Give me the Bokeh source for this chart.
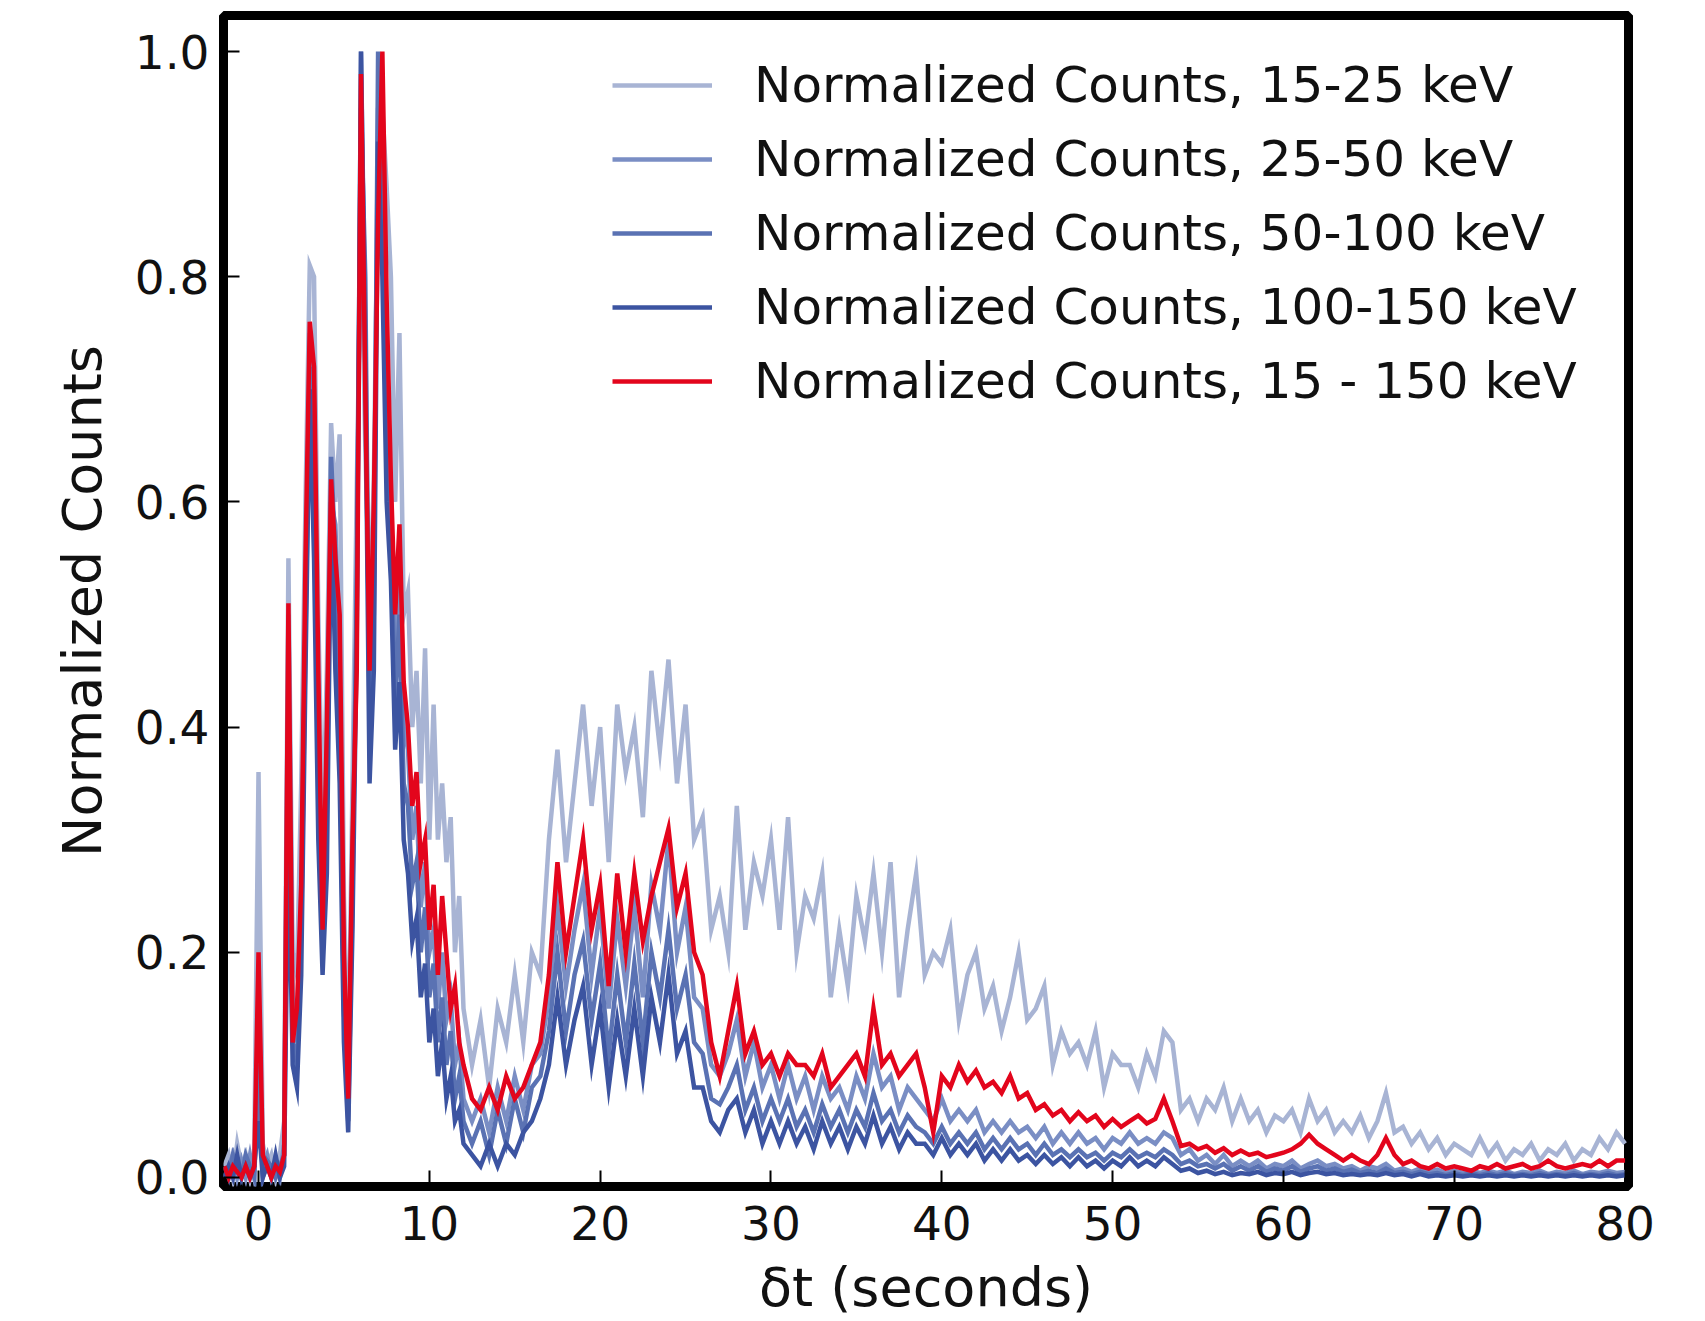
from bokeh.plotting import figure
from bokeh.models import Range1d, FixedTicker, PrintfTickFormatter, Legend
from bokeh.embed import file_html
from bokeh.resources import INLINE

# ---- time grids (seconds) ----
time_early = [-2.0 + 0.25 * i for i in range(57)]   # -2.0 .. 12.0
time_late = [12.5 + 0.5 * i for i in range(136)]    # 12.5 .. 80.0

# ---- series values ----
c15_25_early = [
    0.01, 0.02, 0.0, 0.03,
    0.01, 0.02, 0.0, 0.02,
    0.36, 0.03, 0.01, 0.02,
    0.0, 0.02, 0.05, 0.55,
    0.2, 0.18, 0.35, 0.6,
    0.81, 0.8, 0.5, 0.3,
    0.45, 0.67, 0.6, 0.66,
    0.25, 0.08, 0.35, 0.61,
    0.85, 0.65, 0.5, 0.62,
    0.9, 0.95, 0.88, 0.8,
    0.6, 0.75, 0.5, 0.52,
    0.4, 0.45, 0.35, 0.47,
    0.3, 0.42, 0.3, 0.35,
    0.28, 0.32, 0.2, 0.25,
    0.15,
]
c15_25_late = [
    0.1,
    0.14, 0.08, 0.15, 0.12, 0.18, 0.12, 0.2, 0.18, 0.3, 0.38,
    0.28, 0.35, 0.42, 0.33, 0.4, 0.28, 0.42, 0.36, 0.4, 0.32,
    0.45, 0.38, 0.46, 0.35, 0.42, 0.3, 0.32, 0.22, 0.25, 0.2,
    0.33, 0.22, 0.28, 0.25, 0.3, 0.22, 0.32, 0.2, 0.25, 0.23,
    0.27, 0.16, 0.22, 0.17, 0.25, 0.21, 0.27, 0.2, 0.28, 0.16,
    0.22, 0.27, 0.18, 0.2, 0.19, 0.22, 0.14, 0.18, 0.2, 0.15,
    0.17, 0.13, 0.16, 0.2, 0.14, 0.15, 0.17, 0.1, 0.13, 0.11,
    0.12, 0.1, 0.13, 0.08, 0.11, 0.1, 0.1, 0.08, 0.11, 0.09,
    0.13, 0.12, 0.06, 0.07, 0.05, 0.07, 0.06, 0.08, 0.05, 0.07,
    0.05, 0.06, 0.04, 0.055, 0.05, 0.06, 0.04, 0.07, 0.05, 0.06,
    0.04, 0.05, 0.04, 0.055, 0.035, 0.05, 0.075, 0.04, 0.045, 0.03,
    0.04, 0.025, 0.035, 0.02, 0.03, 0.025, 0.02, 0.035, 0.02, 0.03,
    0.015, 0.025, 0.02, 0.03, 0.015, 0.025, 0.02, 0.03, 0.015, 0.025,
    0.02, 0.035, 0.025, 0.04, 0.03,
]

c25_50_early = [
    0.0, 0.01, 0.02, 0.0,
    0.015, 0.0, 0.02, 0.0,
    0.15, 0.01, 0.02, 0.0,
    0.01, 0.0, 0.03, 0.5,
    0.15, 0.12, 0.25, 0.5,
    0.75, 0.7, 0.4, 0.25,
    0.38, 0.6, 0.58, 0.45,
    0.18, 0.06, 0.28, 0.5,
    1.0, 0.75, 0.42, 0.55,
    0.95, 0.9, 0.72, 0.6,
    0.45, 0.55, 0.4, 0.38,
    0.3, 0.33, 0.24, 0.28,
    0.2, 0.22, 0.15, 0.2,
    0.14, 0.16, 0.1, 0.12,
    0.07,
]
c25_50_late = [
    0.05,
    0.07, 0.04, 0.08, 0.05, 0.09, 0.06, 0.1, 0.11, 0.16, 0.24,
    0.17, 0.22, 0.26, 0.18, 0.24, 0.15, 0.23, 0.17, 0.24, 0.16,
    0.26, 0.22, 0.3, 0.2, 0.24, 0.16, 0.15, 0.1, 0.09, 0.11,
    0.14, 0.09, 0.12, 0.08, 0.1, 0.07, 0.1, 0.07, 0.09, 0.06,
    0.09, 0.07, 0.08, 0.06, 0.09, 0.07, 0.11, 0.08, 0.09, 0.06,
    0.08, 0.07, 0.06, 0.05, 0.07, 0.05, 0.06, 0.05, 0.06, 0.04,
    0.05, 0.04, 0.05, 0.04, 0.045, 0.035, 0.045, 0.03, 0.04, 0.03,
    0.04, 0.03, 0.035, 0.025, 0.035, 0.03, 0.04, 0.03, 0.035, 0.03,
    0.04, 0.035, 0.02, 0.025, 0.015, 0.02, 0.012, 0.02, 0.01, 0.015,
    0.01, 0.015, 0.008, 0.012, 0.01, 0.015, 0.008, 0.012, 0.015, 0.01,
    0.012, 0.008, 0.01, 0.006, 0.01, 0.008, 0.012, 0.006, 0.008, 0.005,
    0.008, 0.005, 0.007, 0.004, 0.006, 0.004, 0.006, 0.004, 0.006, 0.004,
    0.006, 0.003, 0.005, 0.004, 0.006, 0.003, 0.005, 0.004, 0.006, 0.003,
    0.005, 0.004, 0.006, 0.004, 0.005,
]

c50_100_early = [
    0.01, 0.0, 0.02, 0.01,
    0.0, 0.02, 0.01, 0.0,
    0.1, 0.0, 0.015, 0.01,
    0.0, 0.01, 0.02, 0.45,
    0.12, 0.1, 0.22, 0.48,
    0.72, 0.65, 0.35, 0.22,
    0.33, 0.64, 0.55, 0.4,
    0.15, 0.05, 0.25, 0.52,
    0.95, 0.8, 0.4, 0.5,
    1.0, 0.88, 0.68, 0.57,
    0.42, 0.5, 0.35, 0.33,
    0.26, 0.28, 0.2, 0.24,
    0.16, 0.19, 0.12, 0.16,
    0.1, 0.13, 0.07, 0.09,
    0.05,
]
c50_100_late = [
    0.03,
    0.05, 0.02, 0.06, 0.03, 0.07, 0.04, 0.08, 0.09, 0.13, 0.2,
    0.13, 0.18, 0.21, 0.14, 0.19, 0.11, 0.18, 0.12, 0.19, 0.12,
    0.2, 0.16, 0.22, 0.15, 0.18, 0.12, 0.11, 0.07, 0.065, 0.08,
    0.1, 0.06, 0.08, 0.05, 0.07, 0.05, 0.07, 0.045, 0.06, 0.04,
    0.065, 0.045, 0.06, 0.04, 0.06, 0.045, 0.075, 0.05, 0.06, 0.04,
    0.055, 0.045, 0.04, 0.03, 0.045, 0.03, 0.04, 0.03, 0.04, 0.025,
    0.035, 0.025, 0.035, 0.025, 0.03, 0.02, 0.03, 0.02, 0.025, 0.018,
    0.025, 0.018, 0.022, 0.015, 0.022, 0.018, 0.025, 0.018, 0.022, 0.018,
    0.025, 0.02, 0.012, 0.015, 0.01, 0.012, 0.008, 0.012, 0.006, 0.01,
    0.006, 0.01, 0.005, 0.008, 0.006, 0.01, 0.005, 0.008, 0.01, 0.006,
    0.008, 0.005, 0.007, 0.004, 0.006, 0.004, 0.008, 0.004, 0.005, 0.003,
    0.005, 0.003, 0.004, 0.002, 0.004, 0.002, 0.004, 0.002, 0.004, 0.002,
    0.004, 0.002, 0.003, 0.002, 0.004, 0.002, 0.003, 0.002, 0.004, 0.002,
    0.003, 0.002, 0.004, 0.002, 0.003,
]

c100_150_early = [
    0.0, 0.01, 0.0, 0.02,
    0.0, 0.01, 0.0, 0.01,
    0.05, 0.0, 0.01, 0.0,
    0.02, 0.0, 0.01, 0.3,
    0.1, 0.08, 0.18, 0.45,
    0.7, 0.55, 0.3, 0.18,
    0.27, 0.6, 0.45, 0.35,
    0.12, 0.04, 0.22, 0.48,
    1.0, 0.72, 0.35, 0.45,
    0.92, 0.8, 0.6, 0.53,
    0.38, 0.44, 0.3, 0.27,
    0.21, 0.23, 0.16, 0.19,
    0.12, 0.15, 0.09, 0.12,
    0.07, 0.09, 0.05, 0.06,
    0.03,
]
c100_150_late = [
    0.02,
    0.01, 0.03, 0.01, 0.03, 0.02, 0.04, 0.05, 0.07, 0.1, 0.16,
    0.1, 0.14, 0.17, 0.1, 0.15, 0.08, 0.14, 0.09, 0.15, 0.09,
    0.16, 0.12, 0.18, 0.11, 0.13, 0.08, 0.08, 0.05, 0.04, 0.06,
    0.07, 0.04, 0.06, 0.03, 0.05, 0.03, 0.05, 0.03, 0.045, 0.025,
    0.05, 0.03, 0.045, 0.025, 0.045, 0.03, 0.055, 0.03, 0.045, 0.025,
    0.04, 0.03, 0.03, 0.02, 0.035, 0.02, 0.03, 0.02, 0.03, 0.015,
    0.025, 0.015, 0.025, 0.015, 0.02, 0.012, 0.02, 0.012, 0.018, 0.01,
    0.018, 0.01, 0.015, 0.008, 0.015, 0.01, 0.018, 0.01, 0.015, 0.01,
    0.018, 0.012, 0.006, 0.008, 0.004, 0.006, 0.003, 0.005, 0.002, 0.004,
    0.003, 0.005, 0.002, 0.004, 0.003, 0.005, 0.002, 0.004, 0.005, 0.003,
    0.004, 0.002, 0.003, 0.002, 0.003, 0.002, 0.004, 0.002, 0.003, 0.001,
    0.003, 0.001, 0.002, 0.001, 0.002, 0.001, 0.002, 0.001, 0.002, 0.001,
    0.002, 0.001, 0.002, 0.001, 0.002, 0.001, 0.002, 0.001, 0.002, 0.001,
    0.002, 0.001, 0.002, 0.001, 0.002,
]

c15_150_early = [
    0.01, 0.0, 0.01, 0.005,
    0.0, 0.01, 0.0, 0.01,
    0.2, 0.02, 0.01, 0.0,
    0.01, 0.005, 0.02, 0.51,
    0.12, 0.15, 0.26, 0.55,
    0.76, 0.72, 0.45, 0.22,
    0.4, 0.62, 0.55, 0.5,
    0.2, 0.07, 0.3, 0.45,
    0.98, 0.7, 0.45, 0.6,
    0.85, 1.0, 0.78, 0.62,
    0.5, 0.58, 0.44, 0.4,
    0.33, 0.36, 0.28, 0.3,
    0.22, 0.26, 0.18, 0.25,
    0.2, 0.15, 0.17, 0.12,
    0.1,
]
c15_150_late = [
    0.07,
    0.06, 0.08, 0.06, 0.09, 0.07, 0.08, 0.1, 0.12, 0.18, 0.28,
    0.2, 0.25, 0.3, 0.22, 0.26, 0.17, 0.27, 0.2, 0.27, 0.21,
    0.25, 0.28, 0.31, 0.24, 0.27, 0.2, 0.18, 0.12, 0.09, 0.13,
    0.17, 0.11, 0.13, 0.1, 0.11, 0.09, 0.11, 0.1, 0.1, 0.09,
    0.11, 0.08, 0.09, 0.1, 0.11, 0.09, 0.15, 0.1, 0.11, 0.09,
    0.1, 0.11, 0.08, 0.04, 0.09, 0.08, 0.1, 0.085, 0.095, 0.08,
    0.085, 0.075, 0.09, 0.07, 0.075, 0.06, 0.065, 0.055, 0.06, 0.05,
    0.058, 0.05, 0.055, 0.045, 0.052, 0.045, 0.05, 0.055, 0.048, 0.052,
    0.07, 0.05, 0.028, 0.03, 0.025, 0.028, 0.022, 0.026, 0.02, 0.024,
    0.02, 0.022, 0.018, 0.02, 0.022, 0.025, 0.03, 0.038, 0.03, 0.025,
    0.02, 0.015, 0.02, 0.015, 0.012, 0.02, 0.035, 0.02, 0.012, 0.015,
    0.01, 0.008, 0.012, 0.008, 0.01, 0.008, 0.006, 0.01, 0.008, 0.012,
    0.008, 0.01, 0.012, 0.008, 0.01, 0.015, 0.01, 0.008, 0.01, 0.012,
    0.01, 0.015, 0.01, 0.015, 0.015,
]

labels = [
    "Normalized Counts, 15-25 keV",
    "Normalized Counts, 25-50 keV",
    "Normalized Counts, 50-100 keV",
    "Normalized Counts, 100-150 keV",
    "Normalized Counts, 15 - 150 keV",
]
colors = ["#a8b4d4", "#7a8ec4", "#5a72b3", "#3c54a1", "#e3051c"]

x_ticks = [0, 10, 20, 30, 40, 50, 60, 70, 80]
y_ticks = [0.0, 0.2, 0.4, 0.6, 0.8, 1.0]

times = time_early + time_late
series = [
    c15_25_early + c15_25_late,
    c25_50_early + c25_50_late,
    c50_100_early + c50_100_late,
    c100_150_early + c100_150_late,
    c15_150_early + c15_150_late,
]

p = figure(width=1705, height=1321, output_backend="svg", toolbar_location=None,
           x_range=Range1d(-2.05, 80.2), y_range=Range1d(-0.008, 1.032),
           min_border_left=223, min_border_right=77, min_border_top=15, min_border_bottom=133)

p.background_fill_color = "white"
p.border_fill_color = "white"
p.grid.visible = False
p.outline_line_color = "black"
p.outline_line_width = 9

renderers = []
for vals, lab, col in zip(series, labels, colors):
    r = p.line(times[:len(vals)], vals, line_color=col, line_width=4.5, line_join="miter")
    renderers.append((lab, [r]))

for ax in (p.xaxis[0], p.yaxis[0]):
    ax.axis_line_color = None
    ax.major_tick_in = 16
    ax.major_tick_out = 0
    ax.major_tick_line_color = "black"
    ax.major_tick_line_width = 2
    ax.minor_tick_line_color = None
    ax.major_label_text_font = "DejaVu Sans"
    ax.major_label_text_font_size = "47px"
    ax.major_label_text_color = "#111111"
    ax.axis_label_text_font = "DejaVu Sans"
    ax.axis_label_text_font_size = "54px"
    ax.axis_label_text_font_style = "normal"
    ax.axis_label_text_color = "#111111"

p.xaxis.ticker = FixedTicker(ticks=x_ticks)
p.yaxis.ticker = FixedTicker(ticks=y_ticks)
p.xaxis.formatter = PrintfTickFormatter(format="%d")
p.yaxis.formatter = PrintfTickFormatter(format="%.1f")
p.xaxis.major_label_standoff = 19
p.yaxis.major_label_standoff = 14
p.xaxis.axis_label = "δt (seconds)"
p.yaxis.axis_label = "Normalized Counts"
p.xaxis.axis_label_standoff = 13
p.yaxis.axis_label_standoff = 18

legend = Legend(items=renderers, location=(389, 776))
legend.label_text_font = "DejaVu Sans"
legend.label_text_font_size = "50px"
legend.label_text_color = "#111111"
legend.glyph_width = 100
legend.glyph_height = 56
legend.label_height = 56
legend.spacing = 16
legend.label_standoff = 42
legend.padding = 0
legend.margin = 0
legend.background_fill_alpha = 0
legend.border_line_alpha = 0
p.add_layout(legend, "center")

open("out.html", "w").write(file_html(p, INLINE))
